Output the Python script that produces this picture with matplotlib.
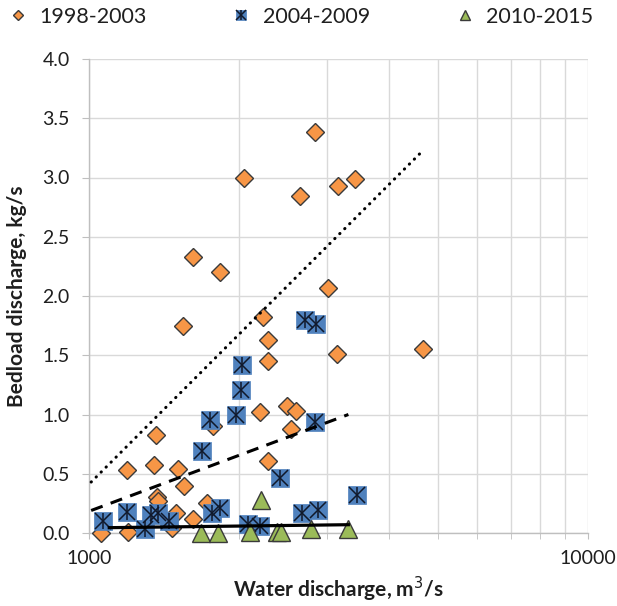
import numpy as np
import matplotlib
matplotlib.use("Agg")
import matplotlib.pyplot as plt
from matplotlib.ticker import FixedLocator, NullFormatter, FormatStrFormatter

plt.rcParams['font.family'] = ['Lato', 'DejaVu Sans']

# --------------------------
# Data
# --------------------------
series_labels = ['1998-2003', '2004-2009', '2010-2015']

x_9803 = [1055, 1199, 1190, 1350, 1362, 1370, 1375, 1465, 1494, 1505, 1552, 1546,
          1618, 1618, 1721, 1775, 1830, 2045, 2201, 2229, 2288, 2288, 2288, 2497,
          2541, 2599, 2648, 2838, 3017, 3135, 3160, 3412, 4664]
y_9803 = [0.00, 0.01, 0.53, 0.57, 0.83, 0.30, 0.27, 0.04, 0.17, 0.54, 0.40, 1.75,
          0.12, 2.33, 0.25, 0.90, 2.20, 3.00, 1.02, 1.82, 1.63, 1.45, 0.61, 1.07,
          0.88, 1.03, 2.84, 3.38, 2.07, 1.51, 2.93, 2.99, 1.55]

x_0409 = [1068, 1190, 1295, 1329, 1377, 1449, 1682, 1748, 1761, 1830, 1971, 2015,
          2023, 2086, 2201, 2414, 2669, 2709, 2838, 2851, 2882, 3439]
y_0409 = [0.10, 0.18, 0.03, 0.15, 0.17, 0.10, 0.69, 0.95, 0.17, 0.21, 1.00, 1.21,
          1.42, 0.08, 0.06, 0.46, 0.17, 1.80, 0.94, 1.76, 0.19, 0.32]

x_1015 = [1674, 1816, 2102, 2216, 2377, 2426, 2786, 3309]
y_1015 = [0.00, 0.00, 0.01, 0.28, 0.01, 0.01, 0.03, 0.03]

# trend lines (end points as drawn)
trend_x_9803 = [1010, 4650]
trend_y_9803 = [0.43, 3.22]
trend_x_0409 = [1010, 3310]
trend_y_0409 = [0.19, 1.00]
trend_x_1015 = [1098, 3309]
trend_y_1015 = [0.045, 0.07]

orange = '#F79646'
blue = '#4F81BD'
green = '#9BBB59'
edge = '#3a3a3a'
grid_c = '#D9D9D9'
text_c = '#1f1f1f'

# --------------------------
# Plot
# --------------------------
fig = plt.figure(figsize=(6.17, 6.06), dpi=100)
ax = fig.add_axes([89 / 617, 1 - 533 / 606, 499 / 617, 474 / 606])

ax.set_xscale('log')
ax.set_xlim(1000, 10000)
ax.set_ylim(0, 4.0)

h1, = ax.plot(x_9803, y_9803, linestyle='none', marker='D', markersize=9.6,
              markerfacecolor=orange, markeredgecolor=edge, markeredgewidth=1.0,
              clip_on=False, zorder=3)

sq, = ax.plot(x_0409, y_0409, linestyle='none', marker='s', markersize=12.8,
              markerfacecolor=blue, markeredgecolor=blue, markeredgewidth=0.5,
              clip_on=False, zorder=3)
sx, = ax.plot(x_0409, y_0409, linestyle='none', marker='x', markersize=12.0,
              markeredgecolor='#10182a', markeredgewidth=1.1, clip_on=False, zorder=3.1)
sv, = ax.plot(x_0409, y_0409, linestyle='none', marker='|', markersize=12.0,
              markeredgecolor='#10182a', markeredgewidth=1.1, clip_on=False, zorder=3.1)

h3, = ax.plot(x_1015, y_1015, linestyle='none', marker='^', markersize=13,
              markerfacecolor=green, markeredgecolor=edge, markeredgewidth=1.0,
              clip_on=False, zorder=3.2)

ax.plot(trend_x_9803, trend_y_9803, color='black', linewidth=2.2,
        linestyle=(0, (0.1, 2.2)), dash_capstyle='round', zorder=4)
ax.plot(trend_x_0409, trend_y_0409, color='black', linewidth=2.2,
        linestyle=(0, (4, 2.8)), zorder=4)
ax.plot(trend_x_1015, trend_y_1015, color='black', linewidth=2.3,
        linestyle='-', zorder=4)

# axes styling
ax.xaxis.set_major_locator(FixedLocator([1000, 10000]))
ax.xaxis.set_minor_locator(FixedLocator([2000, 3000, 4000, 5000, 6000, 7000, 8000, 9000]))
ax.xaxis.set_minor_formatter(NullFormatter())
ax.xaxis.set_major_formatter(FormatStrFormatter('%d'))
ax.set_yticks(np.arange(0, 4.01, 0.5))
ax.yaxis.set_major_formatter(FormatStrFormatter('%.1f'))

ax.grid(True, which='both', color=grid_c, linewidth=1.0)
ax.set_axisbelow(True)
for s in ['top', 'right']:
    ax.spines[s].set_visible(False)
for s in ['left', 'bottom']:
    ax.spines[s].set_color('#BFBFBF')
    ax.spines[s].set_linewidth(1.0)

ax.tick_params(axis='x', which='both', direction='out', length=4.5, color='#BFBFBF',
               labelsize=14, labelcolor=text_c, pad=8)
ax.tick_params(axis='y', which='both', direction='out', length=5, color='#BFBFBF',
               labelsize=14, labelcolor=text_c, pad=9)

ax.set_xlabel('Water discharge, m$^3$/s', fontsize=15, fontweight='bold',
              color=text_c, labelpad=5)
ax.set_ylabel('Bedload discharge, kg/s', fontsize=15, fontweight='bold',
              color=text_c, labelpad=11)

fig.legend([h1, (sq, sx, sv), h3], series_labels, loc='center',
           bbox_to_anchor=(0.488, 1 - 17 / 606), ncol=3, frameon=False,
           fontsize=15.5, markerscale=0.55, handlelength=0.8, handletextpad=0.6,
           columnspacing=4.0, labelcolor=text_c)

fig.savefig('out.png', dpi=100)
